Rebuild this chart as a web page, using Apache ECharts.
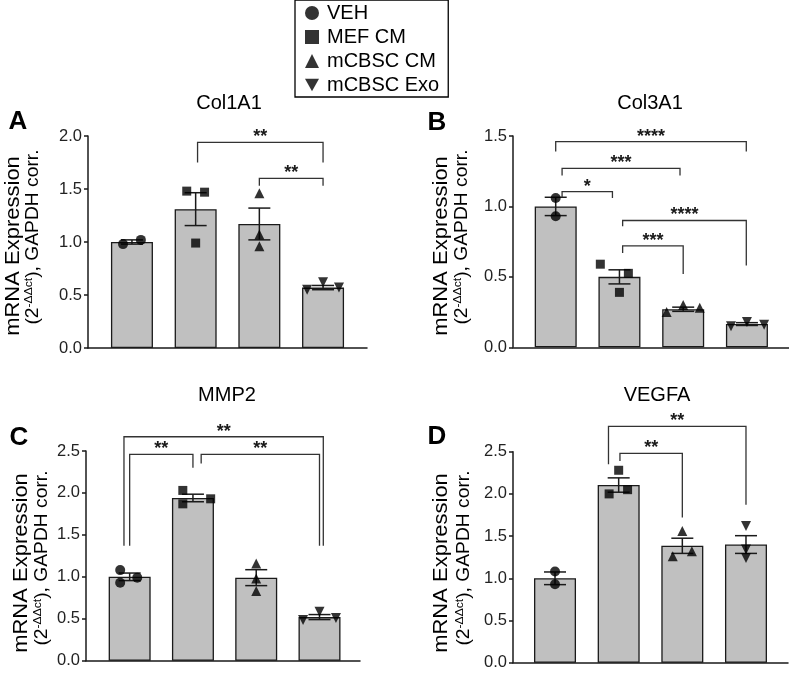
<!DOCTYPE html>
<html>
<head>
<meta charset="utf-8">
<script src="https://cdn.jsdelivr.net/npm/echarts@6/dist/echarts.min.js"></script>
<style>
html,body{margin:0;padding:0;background:#fff;}
#chart{width:789px;height:674px;}
</style>
</head>
<body>
<div id="chart"></div>
<script>
// ---------------- DATA ----------------
const groups = ['VEH', 'MEF CM', 'mCBSC CM', 'mCBSC Exo'];
const genes = ['Col1A1', 'Col3A1', 'MMP2', 'VEGFA'];
const panelLetters = ['A', 'B', 'C', 'D'];
const yMax = [2.0, 1.5, 2.5, 2.5];
const yTickStep = 0.5;

// Col1A1
const col1a1Mean = [1.00, 1.31, 1.17, 0.57];
const col1a1Sem = [0.02, 0.155, 0.15, 0.02];
const col1a1Points = [[0.98, 1.02], [1.48, 1.47, 0.99], [1.46, 1.07, 0.96], [0.55, 0.62, 0.57]];
const col1a1Sig = [[1.03, 3.0, 1.94, 1.75, 1.75], [2.0, 3.0, 1.60, 1.53, 1.53]];
const col1a1SigText = ['**', '**'];

// Col3A1
const col3a1Mean = [1.00, 0.50, 0.27, 0.165];
const col3a1Sem = [0.065, 0.05, 0.015, 0.01];
const col3a1Points = [[1.06, 0.93], [0.59, 0.525, 0.39], [0.25, 0.30, 0.28], [0.15, 0.18, 0.16]];
const col3a1Sig = [[0.0, 2.99, 1.46, 1.39, 1.39], [0.1, 1.95, 1.27, 1.22, 1.22], [0.1, 0.89, 1.105, 1.065, 1.06],
                   [1.05, 2.99, 0.90, 0.86, 0.58], [1.05, 2.0, 0.72, 0.67, 0.52]];
const col3a1SigText = ['****', '***', '*', '****', '***'];

// MMP2
const mmp2Mean = [1.00, 1.94, 0.99, 0.52];
const mmp2Sem = [0.045, 0.045, 0.095, 0.03];
const mmp2Points = [[1.08, 0.93, 0.99], [2.03, 1.87, 1.93], [1.16, 0.98, 0.83], [0.485, 0.585, 0.51]];
const mmp2Sig = [[-0.09, 3.06, 2.67, 1.37, 1.37], [0.0, 1.0, 2.46, 1.37, 2.30], [1.13, 3.0, 2.46, 2.35, 1.37]];
const mmp2SigText = ['**', '**', '**'];

// VEGFA
const vegfaMean = [1.00, 2.105, 1.385, 1.40];
const vegfaSem = [0.075, 0.085, 0.09, 0.105];
const vegfaPoints = [[1.08, 0.93], [2.28, 2.0, 2.05], [1.56, 1.26, 1.32], [1.62, 1.34, 1.24]];
const vegfaSig = [[0.84, 3.0, 2.80, 2.35, 1.87], [1.02, 2.0, 2.48, 2.39, 1.72]];
const vegfaSigText = ['**', '**'];

// horizontal jitter of replicate points (layout, in category units)
const col1a1Jitter = [[-0.14, 0.14], [-0.14, 0.14, 0], [0, 0, 0], [-0.25, 0, 0.25]];
const col3a1Jitter = [[0, 0], [-0.3, 0.14, 0], [-0.26, 0, 0.26], [-0.25, 0, 0.27]];
const mmp2Jitter = [[-0.15, -0.15, 0.12], [-0.16, -0.16, 0.28], [0, 0, 0], [-0.26, 0, 0.26]];
const vegfaJitter = [[0, 0], [0, -0.15, 0.14], [0, -0.15, 0.15], [0, 0, 0]];

// ---------------- BUILD ----------------
const means = [col1a1Mean, col3a1Mean, mmp2Mean, vegfaMean];
const sems = [col1a1Sem, col3a1Sem, mmp2Sem, vegfaSem];
const points = [col1a1Points, col3a1Points, mmp2Points, vegfaPoints];
const jitters = [col1a1Jitter, col3a1Jitter, mmp2Jitter, vegfaJitter];
const sigs = [col1a1Sig, col3a1Sig, mmp2Sig, vegfaSig];
const sigTexts = [col1a1SigText, col3a1SigText, mmp2SigText, vegfaSigText];

const FONT = '"Liberation Sans", Arial, sans-serif';
const INK = '#1a1a1a';

const grids = [
  {left: 88, top: 136, width: 279, height: 212},
  {left: 513, top: 136, width: 276, height: 211.3},
  {left: 86, top: 451, width: 274, height: 209.7},
  {left: 513, top: 451.7, width: 275, height: 211}
];
const xRange = [[-0.69, 3.69], [-0.67, 3.66], [-0.69, 3.64], [-0.66, 3.66]];

const symbols = ['circle', 'rect', 'triangle', 'triangle'];
const symbolRot = [0, 0, 0, 180];
const symbolSizes = [10, 9, 10, 10];

function errRender(params, api) {
  const x = api.value(0), m = api.value(1), s = api.value(2);
  const t = api.coord([x, m + s]), b = api.coord([x, m - s]);
  const hw = 11;
  const st = {stroke: INK, lineWidth: 1.5};
  return {type: 'group', children: [
    {type: 'line', shape: {x1: t[0], y1: t[1], x2: b[0], y2: b[1]}, style: st},
    {type: 'line', shape: {x1: t[0] - hw, y1: t[1], x2: t[0] + hw, y2: t[1]}, style: st},
    {type: 'line', shape: {x1: b[0] - hw, y1: b[1], x2: b[0] + hw, y2: b[1]}, style: st}
  ]};
}

function sigRender(labels) {
  return function (params, api) {
    const x1 = api.value(0), x2 = api.value(1), yt = api.value(2), yl = api.value(3), yr = api.value(4);
    const tl = api.coord([x1, yt]), tr = api.coord([x2, yt]);
    const l = api.coord([x1, yl]), r = api.coord([x2, yr]);
    return {type: 'group', children: [
      {type: 'polyline', shape: {points: [l, tl, tr, r]}, style: {stroke: '#333', lineWidth: 1.3, fill: 'none'}},
      {type: 'text', style: {text: labels[params.dataIndex], x: (tl[0] + tr[0]) / 2, y: tl[1] - 5,
        align: 'center', verticalAlign: 'middle', font: 'bold 18px ' + FONT, fill: INK}}
    ]};
  };
}

const xAxes = [], yAxes = [], series = [];
for (let p = 0; p < 4; p++) {
  xAxes.push({
    type: 'value', gridIndex: p, min: xRange[p][0], max: xRange[p][1],
    axisLine: {show: true, onZero: false, lineStyle: {color: INK, width: 1.5}},
    axisTick: {show: false}, axisLabel: {show: false}, splitLine: {show: false}
  });
  yAxes.push({
    type: 'value', gridIndex: p, min: 0, max: yMax[p], interval: yTickStep,
    axisLine: {show: true, onZero: false, lineStyle: {color: INK, width: 1.5}},
    axisTick: {show: true, inside: false, length: 4, lineStyle: {color: INK, width: 1.5}},
    axisLabel: {fontSize: 16.5, fontFamily: FONT, color: '#222', margin: 6, formatter: v => v.toFixed(1)},
    splitLine: {show: false}
  });
  series.push({
    type: 'bar', xAxisIndex: p, yAxisIndex: p, barWidth: 42, silent: true, z: 2,
    itemStyle: {color: '#c0c0c0', borderColor: INK, borderWidth: 1.3},
    data: means[p].map((v, k) => [k, v])
  });
  series.push({
    type: 'custom', xAxisIndex: p, yAxisIndex: p, z: 3, silent: true, renderItem: errRender,
    data: means[p].map((v, k) => [k, v, sems[p][k]])
  });
  for (let g = 0; g < 4; g++) {
    series.push({
      type: 'scatter', name: groups[g], xAxisIndex: p, yAxisIndex: p, z: 4, silent: true,
      symbol: symbols[g], symbolRotate: symbolRot[g], symbolSize: symbolSizes[g],
      itemStyle: {color: '#000'},
      data: points[p][g].map((v, i) => [g + jitters[p][g][i], v])
    });
  }
  series.push({
    type: 'custom', xAxisIndex: p, yAxisIndex: p, z: 5, silent: true, clip: false,
    renderItem: sigRender(sigTexts[p]),
    data: sigs[p]
  });
}

// text decorations
const titlePos = [[229, 103], [650, 103], [227, 395], [657, 395]];
const letterPos = [[18, 122], [437, 123], [19, 438], [437, 437]];
const ylab1Pos = [[13, 246], [441, 246], [21, 563], [441, 563]];
const ylab2Pos = [[32, 237], [461.5, 237], [41.5, 558], [463, 558]];

const graphics = [];
for (let p = 0; p < 4; p++) {
  graphics.push({type: 'text', x: titlePos[p][0], y: titlePos[p][1], silent: true,
    style: {text: genes[p], x: 0, y: 0, align: 'center', verticalAlign: 'middle', font: '20px ' + FONT, fill: '#000'}});
  graphics.push({type: 'text', x: letterPos[p][0], y: letterPos[p][1], silent: true,
    style: {text: panelLetters[p], x: 0, y: 0, align: 'center', verticalAlign: 'middle', font: 'bold 26px ' + FONT, fill: '#000'}});
  graphics.push({type: 'text', x: ylab1Pos[p][0], y: ylab1Pos[p][1], rotation: Math.PI / 2, scaleX: 1.1, silent: true,
    style: {text: 'mRNA Expression', x: 0, y: 0, align: 'center', verticalAlign: 'middle', font: '20px ' + FONT, fill: '#000'}});
  graphics.push({type: 'text', x: ylab2Pos[p][0], y: ylab2Pos[p][1], rotation: Math.PI / 2, scaleX: 1.1, silent: true,
    style: {text: '{a|(2}{s|-ΔΔct}{a|), GAPDH corr.}', x: 0, y: 0, align: 'center', verticalAlign: 'middle',
      fill: '#000',
      rich: {a: {fontSize: 17.5, fontFamily: FONT, lineHeight: 20, verticalAlign: 'bottom'},
             s: {fontSize: 11, fontFamily: FONT, lineHeight: 20, verticalAlign: 'top', padding: [1, 0, 0, 0]}}}});
}

const chart = echarts.init(document.getElementById('chart'), null, {renderer: 'canvas'});
chart.setOption({
  animation: false,
  backgroundColor: '#fff',
  grid: grids,
  xAxis: xAxes,
  yAxis: yAxes,
  legend: {
    orient: 'vertical', left: 295, top: 0, selectedMode: false,
    itemWidth: 14, itemHeight: 14, itemGap: 4,
    padding: [3, 9, 2, 10],
    borderColor: '#000', borderWidth: 1.3,
    textStyle: {fontSize: 20, fontFamily: FONT, color: '#000', padding: [0, 0, 0, 3]},
    data: [
      {name: 'VEH', icon: 'circle'},
      {name: 'MEF CM', icon: 'rect'},
      {name: 'mCBSC CM', icon: 'triangle'},
      {name: 'mCBSC Exo', icon: 'path://M0,0L10,0L5,9Z'}
    ]
  },
  graphic: graphics,
  series: series
});
</script>
</body>
</html>
